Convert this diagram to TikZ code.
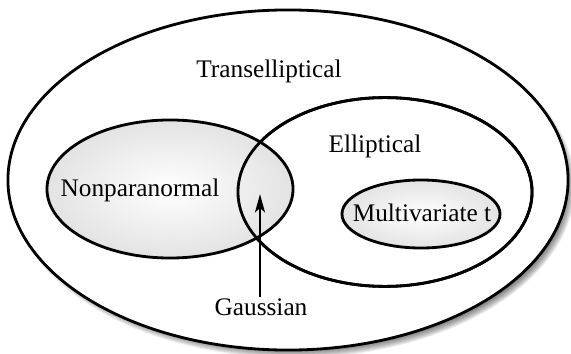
\documentclass[tikz,border=0pt]{standalone}
\usepackage{fontspec}
\setmainfont{Liberation Serif}
\usetikzlibrary{shapes.geometric,arrows.meta,positioning}

\begin{document}
\begin{tikzpicture}[x=0.025cm,y=-0.025cm]
  \tikzstyle{family}=[ellipse,draw=black,line width=2pt,inner sep=0pt]
  \tikzstyle{shadedfamily}=[family,inner color=white,outer color=black!11]
  \tikzstyle{famname}=[font=\fontsize{18}{21}\selectfont,inner sep=1pt]
  \useasboundingbox (0,0) rectangle (571,354);
  % soft shadow of the outer set
  \foreach \r in {0,...,9}
    \fill[black,opacity=0.07] (293,186) ellipse ({273+\r} and {163+\r});
  \node[family,fill=white,minimum width=14cm,minimum height=8.5cm] (trans) at (288,180) {};
  \node[family,fill=white,minimum width=7.35cm,minimum height=4.72cm] (ellip) at (385,192) {};
  \node[shadedfamily,minimum width=6.15cm,minimum height=3.45cm] (nonpara) at (170,189) {};
  \node[family,minimum width=7.35cm,minimum height=4.72cm] at (ellip) {};
  \node[shadedfamily,minimum width=3.95cm,minimum height=1.7cm] (mvt) at (421,214) {};
  \node[famname] (mvtlabel) at (422,213) {Multivariate t};
  \node[famname] (translabel) at (269,71) {Transelliptical};
  \node[famname] (elliplabel) at (375,146) {Elliptical};
  \node[famname] (nonparalabel) at (140,190) {Nonparanormal};
  \node[famname] (gauss) at (261,307) {Gaussian};
  \coordinate (gtip) at (260,194);
  \draw[line width=2pt,-{Stealth[length=13pt,width=7pt,inset=3pt]}] (gtip |- gauss.north) -- (gtip);
\end{tikzpicture}
\end{document}
